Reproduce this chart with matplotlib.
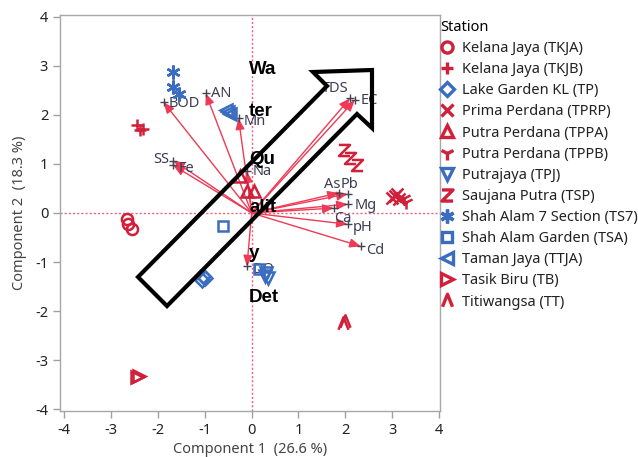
import matplotlib
matplotlib.use("Agg")
import matplotlib.pyplot as plt
from matplotlib.path import Path
from matplotlib.lines import Line2D
from matplotlib.patches import Polygon
import numpy as np

plt.rcParams['font.family'] = ['Noto Sans', 'DejaVu Sans']

# ---------------- data ----------------
stations = ["Kelana Jaya (TKJA)", "Kelana Jaya (TKJB)", "Lake Garden KL (TP)",
            "Prima Perdana (TPRP)", "Putra Perdana (TPPA)", "Putra Perdana (TPPB)",
            "Putrajaya (TPJ)", "Saujana Putra (TSP)", "Shah Alam 7 Section (TS7)",
            "Shah Alam Garden (TSA)", "Taman Jaya (TTJA)", "Tasik Biru (TB)",
            "Titiwangsa (TT)"]

tkja_x = [-2.65, -2.63, -2.55]
tkja_y = [-0.12, -0.23, -0.33]
tkjb_x = [-2.44, -2.31, -2.38]
tkjb_y = [1.79, 1.72, 1.70]
tp_x = [-1.03, -1.05, -1.00]
tp_y = [-1.29, -1.37, -1.33]
tprp_x = [3.00, 3.10, 3.15, 3.05]
tprp_y = [0.30, 0.38, 0.28, 0.35]
tppa_x = [-0.25, -0.10, 0.05]
tppa_y = [0.75, 0.45, 0.45]
tppb_x = [3.25, 3.30]
tppb_y = [0.30, 0.22]
tpj_x = [0.30, 0.35, 0.28]
tpj_y = [-1.22, -1.32, -1.28]
tsp_x = [1.98, 2.10, 2.25]
tsp_y = [1.28, 1.12, 0.98]
ts7_x = [-1.67, -1.67, -1.54]
ts7_y = [2.87, 2.57, 2.42]
tsa_x = [-0.62, 0.15]
tsa_y = [-0.27, -1.15]
ttja_x = [-0.55, -0.50, -0.46]
ttja_y = [2.10, 2.06, 2.02]
tb_x = [-2.44, -2.40]
tb_y = [-3.35, -3.33]
tt_x = [2.00, 1.95]
tt_y = [-2.20, -2.25]

score_x = [tkja_x, tkjb_x, tp_x, tprp_x, tppa_x, tppb_x, tpj_x, tsp_x,
           ts7_x, tsa_x, ttja_x, tb_x, tt_x]
score_y = [tkja_y, tkjb_y, tp_y, tprp_y, tppa_y, tppb_y, tpj_y, tsp_y,
           ts7_y, tsa_y, ttja_y, tb_y, tt_y]

variables = ["TDS", "EC", "BOD", "AN", "Mn", "SS", "Fe", "Na", "As", "Pb",
             "Mg", "Ca", "pH", "Cd", "DO"]
load_x = [2.10, 2.20, -1.88, -0.98, -0.28, -1.67, -1.67, -0.10, 1.86, 2.05,
          2.05, 1.75, 2.05, 2.33, -0.10]
load_y = [2.34, 2.30, 2.26, 2.44, 1.93, 1.07, 0.97, 0.85, 0.41, 0.39,
          0.18, 0.10, -0.23, -0.68, -1.09]

xticks = [-4, -3, -2, -1, 0, 1, 2, 3, 4]
yticks = [-4, -3, -2, -1, 0, 1, 2, 3, 4]

# ---------------- styles ----------------
RED = '#d0203a'
BLUE = '#3a6cc0'
zpath = Path([(-1, 1), (1, 1), (-1, -1), (1, -1)],
             [Path.MOVETO, Path.LINETO, Path.LINETO, Path.LINETO])
caret = Path([(-0.8, -1), (0, 1), (0.8, -1)],
             [Path.MOVETO, Path.LINETO, Path.LINETO])
styles = [
    ('o', RED, True), ('+', RED, False), ('D', BLUE, True), ('x', RED, False),
    ('^', RED, True), ('1', RED, False), ('v', BLUE, True), (zpath, RED, False),
    ((6, 2, 0), BLUE, False), ('s', BLUE, True), ('<', BLUE, True),
    ('>', RED, True), (caret, RED, False),
]
sizes = [8, 9, 7, 8, 9, 10, 9, 8, 10, 7, 9, 9, 9]

W, H = 638, 457
fig = plt.figure(figsize=(W / 100, H / 100), dpi=100)
ax = fig.add_axes([60 / W, 1 - 411 / H, 380 / W, 396 / H])
ax.set_xlim(-4.09, 4.02)
ax.set_ylim(-4.04, 4.04)

# reference lines
ax.axhline(0, color='#f06080', lw=1, ls=(0, (1.5, 1.5)), zorder=1)
ax.axvline(0, color='#f06080', lw=1, ls=(0, (1.5, 1.5)), zorder=1)

# loadings
label_pos = {
    "TDS": (-1, 2, 'right', 'bottom'), "EC": (4, 0, 'left', 'center'),
    "BOD": (4, -1, 'left', 'center'), "AN": (4, 0, 'left', 'center'),
    "Mn": (4, -2, 'left', 'center'), "SS": (-3, 1, 'right', 'center'),
    "Fe": (4, -2, 'left', 'center'), "Na": (4, 0, 'left', 'center'),
    "As": (1, 1, 'right', 'bottom'), "Pb": (-5, 1, 'left', 'bottom'),
    "Mg": (5, -1, 'left', 'center'), "Ca": (0, -2, 'left', 'top'),
    "pH": (4, -2, 'left', 'center'), "Cd": (4, -3, 'left', 'center'),
    "DO": (4, -2, 'left', 'center'),
}
for name, lx, ly in zip(variables, load_x, load_y):
    ax.annotate('', xy=(lx, ly), xytext=(0, 0),
                arrowprops=dict(arrowstyle='-|>,head_length=0.6,head_width=0.25',
                                color='#ee3a55', lw=1,
                                mutation_scale=11, shrinkA=0, shrinkB=0),
                zorder=3)
    ax.plot([lx], [ly], marker='+', color='#444455', ms=6, mew=1, zorder=4)
    dx, dy, ha, va = label_pos[name]
    ax.annotate(name, xy=(lx, ly), xytext=(dx, dy), textcoords='offset points',
                ha=ha, va=va, fontsize=10.5, color='#3d3d55', zorder=5)

# scores
for sx, sy, (m, c, open_), s in zip(score_x, score_y, styles, sizes):
    ax.plot(sx, sy, ls='none', marker=m, ms=s, mew=1.8, color=c,
            mfc='none', zorder=6)

# axes styling
ax.set_xticks(xticks)
ax.set_yticks(yticks)
ax.set_xticklabels([str(t) for t in xticks])
ax.set_yticklabels([str(t) for t in yticks])
ax.tick_params(direction='out', length=5, color='#a0a0a0', labelsize=10.5,
               labelcolor='#222222', width=1)
for sp in ax.spines.values():
    sp.set_color('#a8a8a8')
    sp.set_linewidth(1)
ax.set_xlabel('Component 1  (26.6 %)', fontsize=10.5, color='#444444', labelpad=3)
ax.set_ylabel('Component 2  (18.3 %)', fontsize=10.5, color='#444444', labelpad=6)

# legend
handles = [Line2D([], [], ls='none', marker=m, ms=s, mew=2.4, color=c,
                  mfc='none') for (m, c, o), s in zip(styles, sizes)]
leg = fig.legend(handles, stations, loc='upper left',
                 bbox_to_anchor=(437 / W, 1 - 17 / H), frameon=False,
                 title='Station', alignment='left', fontsize=10.5,
                 title_fontproperties={'weight': 'bold', 'size': 10.5},
                 handlelength=1.0, handletextpad=0.5, labelspacing=0.42,
                 borderpad=0.2, borderaxespad=0)
for t in leg.get_texts():
    t.set_color('#222222')

# overlaid block arrow (annotation)
def px(x, y):
    return (x / W, 1 - y / H)

arrow_pts = [(138, 277), (327, 86), (313, 72), (372, 70), (372, 128),
             (357, 114), (167, 306)]
fig.patches.append(Polygon([px(*p) for p in arrow_pts], closed=True,
                           fill=False, ec='black', lw=3, joinstyle='miter',
                           transform=fig.transFigure, figure=fig, zorder=10))

words = [("Wa", 69), ("ter", 112), ("Qu", 160), ("alit", 207), ("y", 254), ("Det", 297)]
for w, yy in words:
    fig.text(249 / W, 1 - yy / H, w, fontsize=13.5, fontweight='bold',
             family='Liberation Sans', ha='left', va='center', color='black',
             zorder=11)

fig.savefig('out.png', dpi=100)
